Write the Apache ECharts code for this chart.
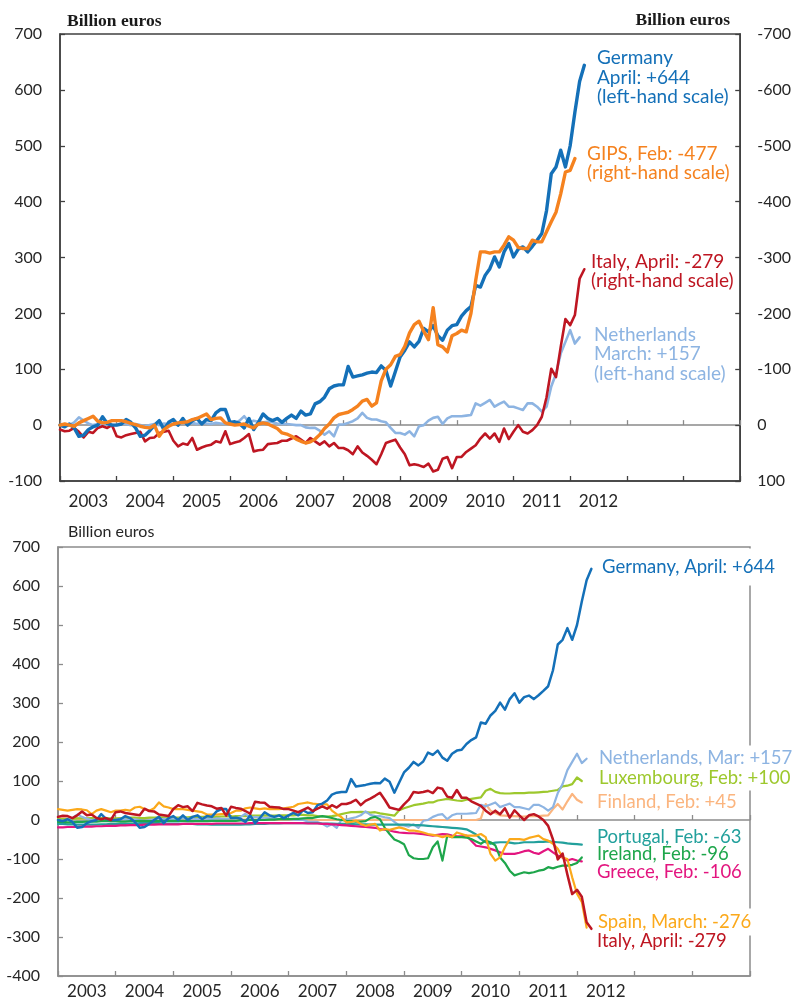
<!DOCTYPE html>
<html><head><meta charset="utf-8">
<script src="https://cdn.jsdelivr.net/npm/echarts@6/dist/echarts.min.js"></script>
<style>html,body{margin:0;padding:0;background:#fff}#c{width:794px;height:1006px}</style>
</head><body><div id="c"></div>
<script>
// Monthly data, Jan 2003 onwards (billion euros)
const yearLabels = ['2003','2004','2005','2006','2007','2008','2009','2010','2011','2012','',''];
const germany = [
0,-3,2,-5,-20,-18,-8,-3,0,15,3,0,
0,2,10,5,-5,-20,-18,-10,0,8,-8,5,
10,0,12,0,8,12,2,10,8,22,28,28,
5,6,3,-5,12,-8,5,20,12,8,12,5,
12,18,12,25,18,20,38,42,50,65,70,72,
72,105,86,88,90,93,95,94,106,98,70,96,
122,134,149,140,150,173,167,178,160,152,170,178,
180,195,205,212,250,247,268,280,301,283,310,325,
301,315,319,310,320,331,343,384,450,462,492,462,
500,560,615,644];
const gips = [
0,-2,0,2,-4,-8,-12,-16,-7,-4,-5,-8,
-8,-8,-6,-3,-1,2,4,5,0,20,8,2,
-2,-4,-5,-6,-10,-12,-16,-20,-10,-12,-13,-4,
-2,0,-1,-2,2,5,-2,-4,-2,2,6,14,
16,20,25,29,32,30,25,17,6,-2,-13,-19,
-21,-23,-28,-34,-43,-46,-34,-40,-79,-100,-108,-123,
-126,-141,-165,-180,-186,-168,-153,-210,-144,-140,-131,-160,
-164,-170,-167,-200,-259,-310,-310,-308,-310,-310,-322,-337,
-331,-318,-316,-316,-331,-328,-328,-346,-364,-381,-414,-453,
-456,-477];
const italy = [
8,11,10,5,12,22,12,14,5,2,5,0,
20,22,18,16,14,12,29,23,22,14,12,10,
28,38,33,35,23,44,40,37,35,29,31,11,
34,31,29,23,16,47,45,44,34,33,32,28,
28,24,20,26,32,23,29,35,29,38,32,41,
41,45,52,38,49,55,62,70,52,32,29,26,
40,52,72,70,72,75,69,83,80,60,57,77,
57,57,48,42,36,24,15,24,15,30,6,25,
12,0,12,15,9,0,-15,-50,-101,-86,-140,-190,
-179,-197,-262,-279];
const netherlands = [
0,-2,0,5,14,8,3,0,2,0,2,0,
0,3,2,0,2,0,-2,0,2,0,3,2,
2,3,5,3,4,2,5,3,2,4,3,2,
5,3,8,16,5,8,6,5,6,5,3,2,
2,1,0,0,-4,-5,-5,-10,-17,-11,-20,1,
1,4,7,12,22,13,10,10,7,5,-5,-14,
-14,-17,-11,-20,-2,0,8,13,15,2,12,16,
16,16,17,18,39,35,40,45,33,38,42,33,
33,30,27,39,39,33,24,33,69,92,128,149,
170,146,157];
const spain = [
28,26,24,26,28,27,25,15,24,28,24,20,
24,24,26,24,32,34,28,24,30,45,35,32,
28,28,28,26,24,22,20,14,14,14,15,15,
18,24,24,30,32,30,28,30,28,28,28,30,
32,34,41,43,45,42,41,40,40,24,15,7,
-6,-5,-2,-10,-15,-12,-10,-27,-23,-25,-22,-19,
-22,-27,-27,-29,-32,-36,-38,-40,-44,-40,-44,-32,
-36,-40,-40,-40,-36,-44,-87,-104,-96,-70,-49,-49,
-49,-51,-46,-43,-40,-49,-53,-61,-74,-96,-100,-147,
-189,-210,-276];
const portugal = [
-10,-10,-11,-11,-12,-12,-12,-12,-12,-11,-11,-10,
-10,-10,-10,-9,-9,-8,-8,-8,-8,-8,-9,-9,
-9,-9,-10,-10,-10,-11,-11,-11,-12,-12,-12,-12,
-12,-12,-12,-11,-11,-10,-10,-10,-9,-9,-9,-8,
-8,-8,-8,-8,-8,-8,-8,-9,-9,-9,-10,-10,
-10,-10,-11,-11,-11,-12,-12,-12,-12,-12,-12,-12,
-12,-12,-13,-13,-14,-15,-16,-17,-18,-19,-20,-21,
-22,-24,-30,-37,-49,-57,-61,-58,-57,-57,-58,-60,
-59,-57,-57,-57,-56,-56,-55,-56,-57,-58,-60,-61,
-62,-63];
const ireland = [
-5,-5,-6,-6,-5,-5,-4,-4,-4,-3,-3,-3,
-3,-4,-4,-3,-3,-2,-2,-3,-3,-3,-2,-2,
-2,-2,-2,-3,-3,-3,-3,-3,-2,-2,-2,-2,
-2,-2,-1,-1,0,0,0,0,1,1,2,2,
2,3,3,4,5,5,8,10,8,5,2,0,
-2,-3,-4,-4,-3,5,8,2,-20,-36,-50,-55,
-62,-90,-98,-100,-100,-98,-70,-55,-104,-40,-44,-44,
-44,-45,-49,-55,-61,-53,-57,-65,-96,-110,-130,-142,
-138,-134,-136,-134,-130,-128,-121,-124,-120,-117,-117,-115,
-110,-96];
const greece = [
-19,-19,-18,-18,-18,-17,-17,-17,-16,-16,-15,-15,
-15,-14,-14,-13,-13,-13,-12,-12,-12,-11,-11,-11,
-11,-11,-10,-10,-10,-10,-10,-10,-10,-9,-9,-9,
-9,-9,-9,-9,-8,-8,-8,-8,-8,-8,-8,-8,
-8,-8,-8,-8,-9,-9,-9,-10,-10,-11,-12,-13,
-14,-15,-16,-17,-18,-19,-20,-23,-25,-27,-30,-32,
-33,-34,-34,-35,-36,-38,-40,-38,-36,-37,-40,-42,
-42,-40,-53,-66,-68,-70,-74,-78,-83,-87,-87,-87,
-84,-80,-78,-84,-87,-80,-74,-83,-91,-96,-104,-100,
-104,-106];
const luxembourg = [
2,2,3,3,4,4,4,5,5,5,4,4,
4,5,5,6,6,5,5,6,6,7,7,6,
6,6,7,7,8,8,8,9,8,8,9,9,
9,10,10,10,11,11,11,12,11,11,12,12,
12,12,13,13,12,12,10,9,9,10,12,15,
18,20,20,21,20,19,20,17,15,13,11,25,
30,34,38,40,42,45,45,50,52,54,52,50,
49,52,54,56,58,75,80,72,69,68,68,69,
69,69,70,70,71,72,73,75,77,86,88,92,
109,100];
const finland = [
4,4,3,3,4,3,3,2,2,3,3,2,
2,2,3,3,2,2,2,3,3,2,2,2,
2,1,1,2,2,1,1,1,2,2,1,1,
1,1,1,1,2,1,1,1,1,1,1,1,
1,1,1,0,0,0,0,0,0,0,0,0,
0,0,0,0,0,0,0,1,1,0,0,0,
0,0,0,0,0,0,0,0,0,0,0,0,
0,0,0,0,4,41,24,18,12,11,10,10,
9,9,10,10,10,11,12,28,41,27,48,67,
52,45];

const C = {
  germany:'#1470b8', gips:'#f5821f', italy:'#be1622', nl:'#8db4e2',
  lux:'#9dc82d', fin:'#fbb57f', por:'#22a09c', ire:'#1ea64b', gre:'#e3157f', spa:'#fba91b'
};
const FONT = 'Lato';
const txt = '#262626';

function pts(a){ return a.map((v,i)=>[i,v]); }
function line(data, color, width, xi, yi, z){
  return {type:'line', data:pts(data), xAxisIndex:xi, yAxisIndex:yi, showSymbol:false, symbol:'none',
    lineStyle:{color, width, join:'round', cap:'round'}, itemStyle:{color}, z, silent:true, animation:false};
}
function catAxis(g, onZero, showLabel, col, margin){
  return {type:'category', gridIndex:g, data:yearLabels, boundaryGap:true, position:'bottom',
    axisLine:{show:true, onZero:onZero, lineStyle:{color:col, width:1.5}},
    axisTick:{show:true, inside:true, length:5, interval:0, lineStyle:{color:col, width:1.3}},
    axisLabel:{show:showLabel, interval:0, margin:margin, fontFamily:FONT, fontSize:17, color:txt},
    splitLine:{show:false}};
}
function valX(g){ return {type:'value', gridIndex:g, min:0, max:144, show:false, position:'bottom', axisLine:{onZero:false}, splitLine:{show:false}}; }
function valY(g, min, max, pos, inverse, col, margin){
  return {type:'value', gridIndex:g, min, max, interval:100, position:pos, inverse:inverse,
    axisLine:{show:true, onZero:false, lineStyle:{color:col, width:1.5}},
    axisTick:{show:true, inside:true, length:5, lineStyle:{color:col, width:1.3}},
    axisLabel:{margin:margin, fontFamily:FONT, fontSize:16, color:txt},
    splitLine:{show:false}};
}
function t(x, y, text, color, opts){
  const o = opts || {};
  return {type:'text', x, y, z:100, silent:true, style:Object.assign({text, fill:color,
    font:(o.font||('19px '+FONT)), align:o.align||'left', verticalAlign:'middle',
    textAlign:o.align||'left', textVerticalAlign:'middle'}, o.bg?{backgroundColor:'#fff', padding:o.bg}:{})};
}
const F_TOP = '19px ' + FONT, F_BOT = '18.5px ' + FONT;

const topFrame = '#404040', botFrame = '#8c8c8c', zeroCol = '#8a8a8a';
const option = {
  animation:false,
  backgroundColor:'#fff',
  grid:[
    {left:60, top:34, width:681, height:447, show:true, borderColor:topFrame, borderWidth:1.5, backgroundColor:'rgba(0,0,0,0)'},
    {left:58, top:547, width:692, height:429, show:true, borderColor:botFrame, borderWidth:1.5, backgroundColor:'rgba(0,0,0,0)'}
  ],
  xAxis:[
    catAxis(0, false, true, topFrame, 12),
    catAxis(0, true, false, zeroCol, 8),
    valX(0),
    catAxis(1, false, true, botFrame, 7),
    catAxis(1, true, false, botFrame, 8),
    valX(1)
  ],
  yAxis:[
    valY(0, -100, 700, 'left', false, topFrame, 18),
    valY(0, -700, 100, 'right', true, topFrame, 17),
    valY(1, -400, 700, 'left', false, botFrame, 18)
  ],
  series:[
    line(netherlands, C.nl, 2.6, 2, 0, 2),
    line(italy, C.italy, 2.6, 2, 1, 3),
    line(germany, C.germany, 3.4, 2, 0, 4),
    line(gips, C.gips, 3.4, 2, 1, 5),

    line(finland, C.fin, 2.2, 5, 2, 2),
    line(luxembourg, C.lux, 2.2, 5, 2, 3),
    line(netherlands, C.nl, 2.2, 5, 2, 3),
    line(portugal, C.por, 2.2, 5, 2, 3),
    line(greece, C.gre, 2.2, 5, 2, 3),
    line(ireland, C.ire, 2.2, 5, 2, 4),
    line(spain, C.spa, 2.2, 5, 2, 4),
    line(germany, C.germany, 2.5, 5, 2, 5),
    line(italy, C.italy, 2.5, 5, 2, 6)
  ],
  graphic:[
    t(67, 21, 'Billion euros', '#1a1a1a', {font:'bold 17.5px "Liberation Serif"'}),
    t(730, 20, 'Billion euros', '#1a1a1a', {font:'bold 17.5px "Liberation Serif"', align:'right'}),
    t(597, 58, 'Germany', C.germany, {font:F_TOP}),
    t(597, 78, 'April: +644', C.germany, {font:F_TOP}),
    t(597, 97, '(left-hand scale)', C.germany, {font:F_TOP}),
    t(587, 154, 'GIPS, Feb: -477', C.gips, {font:F_TOP}),
    t(587, 173, '(right-hand scale)', C.gips, {font:F_TOP}),
    t(591, 262, 'Italy, April: -279', C.italy, {font:F_TOP}),
    t(591, 281, '(right-hand scale)', C.italy, {font:F_TOP}),
    t(594, 335, 'Netherlands', C.nl, {font:F_TOP}),
    t(594, 354, 'March: +157', C.nl, {font:F_TOP}),
    t(594, 374, '(left-hand scale)', C.nl, {font:F_TOP}),

    t(68, 532, 'Billion euros', txt, {font:'16px ' + FONT}),
    t(600, 567, 'Germany, April: +644', C.germany, {font:F_BOT, bg:[9,2,9,2]}),
    t(597, 758, 'Netherlands, Mar: +157', C.nl, {font:F_BOT, bg:[4,2,2,2]}),
    t(597, 778, 'Luxembourg, Feb: +100', C.lux, {font:F_BOT, bg:[2,2,4,2]}),
    t(597, 802, 'Finland, Feb: +45', C.fin, {font:F_BOT}),
    t(597, 837, 'Portugal, Feb: -63', C.por, {font:F_BOT}),
    t(597, 854, 'Ireland, Feb: -96', C.ire, {font:F_BOT}),
    t(597, 872, 'Greece, Feb: -106', C.gre, {font:F_BOT}),
    t(596, 922, 'Spain, March: -276', C.spa, {font:F_BOT, bg:[4,2,4,2]}),
    t(597, 941, 'Italy, April: -279', C.italy, {font:F_BOT})
  ]
};
const chart = echarts.init(document.getElementById('c'), null, {renderer:'canvas'});
chart.setOption(option);
</script></body></html>
